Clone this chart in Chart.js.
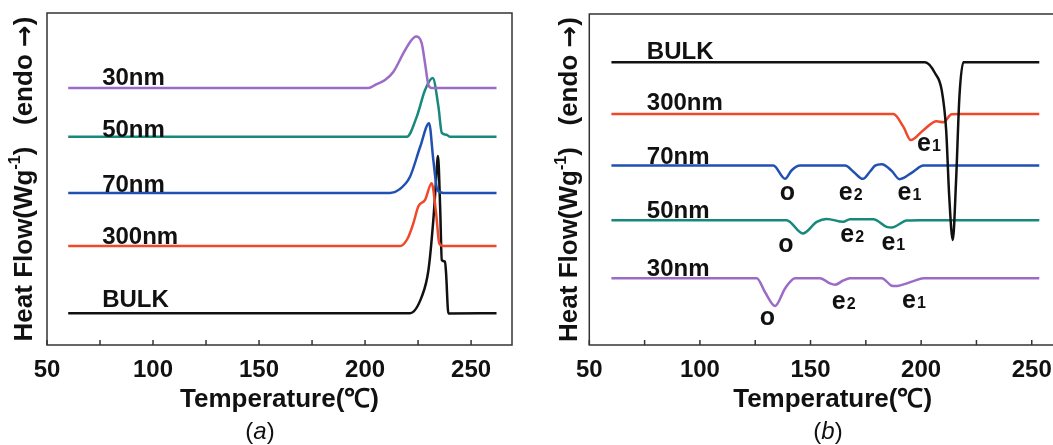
<!DOCTYPE html>
<html>
<head>
<meta charset="utf-8">
<script src="https://cdn.jsdelivr.net/npm/chart.js@4/dist/chart.umd.min.js"></script>
<style>
  html, body { margin: 0; padding: 0; width: 1053px; height: 445px; overflow: hidden; background: #fff; }
  canvas { position: absolute; top: 0; }
  .cap { position: absolute; top: 417px; width: 80px; text-align: center; font: 24px "Liberation Sans", Arial, sans-serif; color: #111; }
</style>
</head>
<body>
<canvas id="chartA" width="530" height="445" style="left:0"></canvas>
<canvas id="chartB" width="570" height="445" style="left:530px"></canvas>
<div class="cap" style="left:220px">(<i>a</i>)</div>
<div class="cap" style="left:788px">(<i>b</i>)</div>
<script>
// tick labels and tick marks
const xTicks = [50, 100, 150, 200, 250];
const xMarks = [50, 75, 100, 125, 150, 175, 200, 225, 250];

// panel (a) - heating curves
const a30T = [60, 201.6, 205, 209.4, 213.4, 218.1, 221.5, 224, 226.7, 228.3, 229.9, 231.4, 262];
const a30V = [77.4, 77.4, 78.4, 79.8, 82.3, 87.9, 91.5, 92.9, 90.9, 84.8, 78.3, 77.4, 77.4];
const a50T = [60, 219.7, 224.4, 228.3, 231.9, 234.6, 236.2, 238.5, 240.1, 262];
const a50V = [62.7, 62.7, 68.8, 76.8, 80.4, 71.8, 63.9, 63.3, 62.7, 62.7];
const a70T = [60, 211.8, 216, 221.2, 226, 230.2, 232.2, 234.1, 237, 262];
const a70V = [45.8, 45.8, 46.8, 50.7, 59.7, 66.8, 55.7, 46.7, 45.8, 45.8];
const a300T = [60, 216.5, 220, 222.8, 225.1, 228.3, 231.4, 233.5, 235, 237, 262];
const a300V = [29.8, 29.8, 32, 36.7, 41.7, 43.7, 48.7, 39.7, 30.6, 29.8, 29.8];
const aBulkT = [60, 221.2, 226.7, 229.9, 232.2, 233.5, 234.4, 235.4, 236.2, 237.7, 238.2, 239.3, 262];
const aBulkV = [9.6, 9.6, 14.5, 22.6, 37.7, 49.7, 56.9, 41.7, 25.6, 25.1, 21.7, 9.5, 9.6];

// panel (b) - cooling curves
const bBulkT = [60, 201.8, 206.3, 209.3, 211.3, 212.7, 214.3, 215.8, 217.3, 219.1, 253.4];
const bBulkV = [85.4, 85.4, 82.1, 77, 65, 44.8, 31.7, 49.8, 75, 85.4, 85.4];
const b300T = [60, 187.4, 192, 195.3, 201, 207, 210, 213.8, 217.6, 253.4];
const b300V = [69.8, 69.8, 65.9, 61.9, 64.9, 67.6, 67.3, 69.7, 69.8, 69.8];
const b70T = [60, 133.2, 138.5, 141.5, 145.3, 165.6, 169.5, 173.6, 177, 179.2, 182.2, 186.7, 190.2, 196.5, 201, 253.4];
const b70V = [54.2, 54.2, 50.2, 52.8, 54.2, 54.2, 52.3, 50.2, 52.5, 54.2, 54.6, 52.6, 50.1, 52.4, 54.2, 54.2];
const b50T = [60, 139.2, 146.5, 152.8, 157.3, 164.8, 167.8, 178.4, 184.4, 186.7, 193.5, 199.5, 253.4];
const b50V = [37.7, 37.7, 33.7, 37.2, 38.1, 37.2, 38, 38, 35.7, 35.5, 37.6, 37.7, 37.7];
const b30T = [60, 125.7, 129.4, 134, 138.5, 143, 154.3, 158.8, 161.1, 164.8, 167.8, 182.2, 186.7, 188.2, 196.5, 201, 253.4];
const b30V = [20.2, 20.2, 16, 11.8, 17.1, 20.2, 20.2, 18.6, 18.2, 19.5, 20.2, 20.2, 17.9, 17.8, 19.3, 20.2, 20.2];

// curve names, placed at a temperature and heat-flow level
const aNames = ["30nm", "50nm", "70nm", "300nm", "BULK"];
const aNameV = [81, 65.4, 48.8, 33.1, 14.2];
const bNames = ["BULK", "300nm", "70nm", "50nm", "30nm"];
const bNameV = [89.1, 73.8, 57.4, 41.1, 23.6];
const nameT = 76;

// peak marks on panel (b)
const bMarkText = ["e1", "o", "e2", "e1", "o", "e2", "e1", "o", "e2", "e1"];
const bMarkT = [203.3, 139.5, 167.9, 194.5, 138.9, 168.6, 187.2, 130.5, 164.8, 196.5];
const bMarkV = [60.7, 46, 45.8, 46, 30.2, 33.2, 30.7, 8.1, 13.1, 13.3];

const PURPLE = "#9b6bc6";
const TEAL = "#16897c";
const BLUE = "#2150b3";
const RED = "#f0482a";
const BLACK = "#111111";
const FONT = '"Liberation Sans", Arial, sans-serif';

const pts = (t, v) => t.map((x, i) => ({ x: x, y: v[i] }));
const line = (t, v, color) => ({
    data: pts(t, v),
    borderColor: color,
    borderWidth: 2.5,
    pointRadius: 0,
    showLine: true,
    fill: false,
    cubicInterpolationMode: "monotone",
});

const decor = {
    id: "decor",
    afterDraw(chart, args, opts) {
        const { ctx, chartArea: a, scales: { x, y } } = chart;
        ctx.save();
        ctx.strokeStyle = "#333";
        ctx.lineWidth = 1.5;
        ctx.strokeRect(a.left, a.top, a.right - a.left, a.bottom - a.top);
        xMarks.forEach((t) => {
            const px = x.getPixelForValue(t);
            ctx.beginPath();
            ctx.moveTo(px, a.bottom);
            ctx.lineTo(px, a.bottom - 5);
            ctx.stroke();
        });

        ctx.fillStyle = BLACK;
        ctx.font = "bold 24px " + FONT;
        ctx.textAlign = "left";
        ctx.textBaseline = "alphabetic";
        opts.names.forEach((n, i) => {
            ctx.fillText(n, x.getPixelForValue(nameT), y.getPixelForValue(opts.nameV[i]) + 9);
        });

        // marks like "e1": big letter, small digit
        opts.marks.forEach((m, i) => {
            const cx = x.getPixelForValue(opts.markT[i]);
            const cy = y.getPixelForValue(opts.markV[i]) + 7;
            ctx.font = "bold 25px " + FONT;
            const w1 = ctx.measureText(m[0]).width;
            ctx.font = "bold 16px " + FONT;
            const w2 = m.length > 1 ? ctx.measureText(m.slice(1)).width : 0;
            const x0 = cx - (w1 + w2) / 2;
            ctx.font = "bold 25px " + FONT;
            ctx.fillText(m[0], x0, cy);
            if (w2) {
                ctx.font = "bold 16px " + FONT;
                ctx.fillText(m.slice(1), x0 + w1 + 1, cy);
            }
        });

        // y title with superscript and a heavier arrow
        ctx.translate(a.left - opts.titleGap, (a.top + a.bottom) / 2);
        ctx.rotate(-Math.PI / 2);
        ctx.textBaseline = "middle";
        const p1 = "Heat Flow(Wg", p2 = "-1", p3 = ")   (endo ", p4 = "\u2192", p5 = ")";
        const big = "bold 26px " + FONT, small = "bold 16px " + FONT, arrow = 'bold 26px "DejaVu Sans", sans-serif';
        ctx.font = big;
        const w1 = ctx.measureText(p1).width, w3 = ctx.measureText(p3).width, w5 = ctx.measureText(p5).width;
        ctx.font = small;
        const w2 = ctx.measureText(p2).width;
        ctx.font = arrow;
        const w4 = ctx.measureText(p4).width;
        let sx = -(w1 + w2 + w3 + w4 + w5) / 2;
        ctx.font = big;
        ctx.fillText(p1, sx, 0);
        sx += w1;
        ctx.font = small;
        ctx.fillText(p2, sx, -9);
        sx += w2;
        ctx.font = big;
        ctx.fillText(p3, sx, 0);
        sx += w3;
        ctx.font = arrow;
        ctx.fillText(p4, sx, 1);
        sx += w4;
        ctx.font = big;
        ctx.fillText(p5, sx, 0);
        ctx.restore();
    },
};

function makeChart(id, datasets, cfg) {
    return new Chart(document.getElementById(id), {
        type: "scatter",
        data: { datasets: datasets },
        plugins: [decor],
        options: {
            responsive: false,
            animation: false,
            layout: { padding: cfg.padding },
            plugins: {
                legend: { display: false },
                tooltip: { enabled: false },
                decor: cfg.decor,
            },
            scales: {
                x: {
                    type: "linear",
                    min: 50,
                    max: cfg.xMax,
                    afterBuildTicks: (s) => { s.ticks = xTicks.map((v) => ({ value: v })); },
                    afterFit: (s) => { s.height = 70; },
                    grid: { display: false, drawTicks: false },
                    border: { display: false },
                    ticks: {
                        padding: 11,
                        autoSkip: false,
                        maxRotation: 0,
                        color: BLACK,
                        font: { family: FONT, size: 24, weight: "bold" },
                    },
                    title: {
                        display: true,
                        text: "Temperature(\u2103)",
                        color: BLACK,
                        padding: { top: 0, bottom: 0 },
                        font: { family: FONT, size: 26, weight: "bold" },
                    },
                },
                y: {
                    min: 0,
                    max: 100,
                    afterFit: (s) => { s.width = cfg.yWidth; },
                    grid: { display: false, drawTicks: false },
                    border: { display: false },
                    ticks: { display: false },
                },
            },
        },
    });
}

makeChart("chartA", [
    line(a30T, a30V, PURPLE),
    line(a50T, a50V, TEAL),
    line(a70T, a70V, BLUE),
    line(a300T, a300V, RED),
    line(aBulkT, aBulkV, BLACK),
], {
    padding: { top: 13, right: 18, bottom: 30, left: 0 },
    xMax: 269.3,
    yWidth: 47,
    decor: { names: aNames, nameV: aNameV, marks: [], markT: [], markV: [], titleGap: 22 },
});

makeChart("chartB", [
    line(bBulkT, bBulkV, BLACK),
    line(b300T, b300V, RED),
    line(b70T, b70V, BLUE),
    line(b50T, b50V, TEAL),
    line(b30T, b30V, PURPLE),
], {
    padding: { top: 14, right: 24, bottom: 30, left: 0 },
    xMax: 270,
    yWidth: 59.3,
    decor: { names: bNames, nameV: bNameV, marks: bMarkText, markT: bMarkT, markV: bMarkV, titleGap: 19 },
});
</script>
</body>
</html>
